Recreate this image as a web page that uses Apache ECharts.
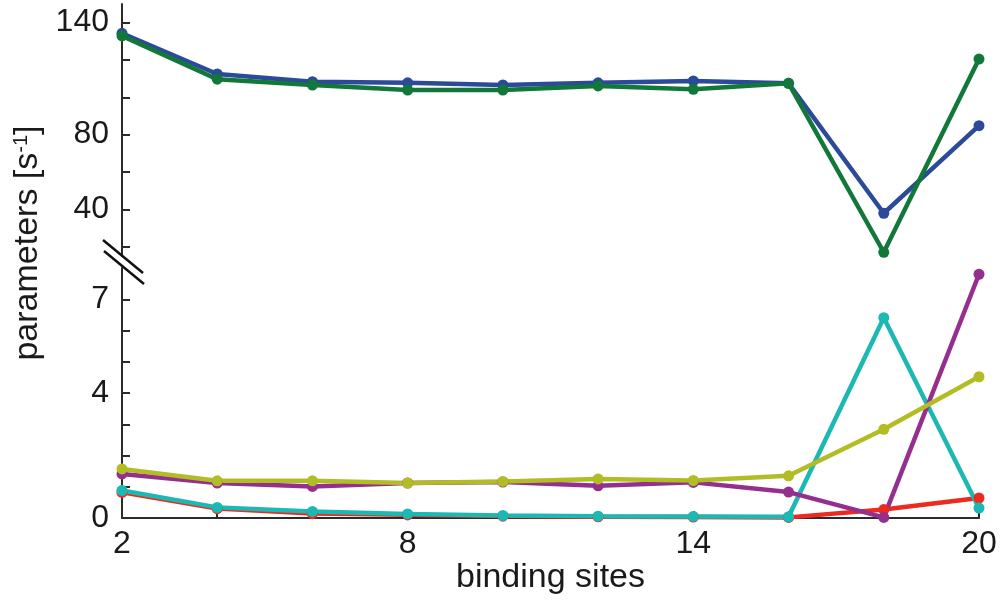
<!DOCTYPE html>
<html>
<head>
<meta charset="utf-8">
<script src="https://cdn.jsdelivr.net/npm/echarts@6/dist/echarts.min.js"></script>
<style>
  html, body { margin: 0; padding: 0; background: #fff; }
  #my_chart { width: 1004px; height: 600px; }
</style>
</head>
<body>
<div id="my_chart"></div>
<script>
// binding sites (x)
var sites = [2, 4, 6, 8, 10, 12, 14, 16, 18, 20];
var xTicks = [2, 4, 6, 8, 10, 12, 14, 16, 18, 20];
var xLabels = [2, 8, 14, 20];

// upper panel
var blueVals = [134.3, 112.5, 108.4, 107.8, 106.6, 107.8, 108.8, 107.5, 37.9, 84.8];
var greenVals = [132.9, 109.7, 106.6, 103.9, 103.9, 106.1, 104.3, 107.5, 17, 120.5];
var topTicks = [20, 40, 60, 80, 100, 120, 140];
var topLabels = [40, 80, 140];

// lower panel
var redVals = [0.82, 0.3, 0.14, 0.1, 0.06, 0.04, 0.03, 0.02, 0.27, 0.64];
var cyanVals = [0.88, 0.34, 0.21, 0.13, 0.08, 0.06, 0.05, 0.04, 6.41, 0.32];
var magentaVals = [1.41, 1.12, 1.01, 1.12, 1.15, 1.03, 1.14, 0.83, 0.02, 7.8];
var yellowVals = [1.57, 1.19, 1.19, 1.12, 1.17, 1.25, 1.2, 1.35, 2.84, 4.52];
var lowTicks = [0, 1, 2, 3, 4, 5, 6, 7];
var lowLabels = [0, 4, 7];

var font = "'Liberation Sans', Arial, sans-serif";
var axisColor = "#2b2b2b";

function pairs(vals) {
  var out = [];
  for (var i = 0; i < sites.length; i++) {
    out.push([sites[i], vals[i]]);
  }
  return out;
}

function line(name, vals, color, gridIdx) {
  return {
    name: name,
    type: "line",
    xAxisIndex: gridIdx,
    yAxisIndex: gridIdx,
    data: pairs(vals),
    symbol: "circle",
    symbolSize: 11,
    clip: false,
    animation: false,
    lineStyle: { color: color, width: 4.5 },
    itemStyle: { color: color },
  };
}

function yAxis(gridIdx, min, max, ticks, labels) {
  return {
    type: "value",
    gridIndex: gridIdx,
    min: min,
    max: max,
    splitLine: { show: false },
    axisLine: { show: true, lineStyle: { color: axisColor, width: 2 } },
    axisTick: {
      show: true,
      inside: true,
      length: 8,
      customValues: ticks,
      lineStyle: { color: axisColor, width: 2 },
    },
    axisLabel: {
      customValues: labels,
      margin: 13,
      color: "#1a1a1a",
      fontSize: 32,
      fontFamily: font,
    },
  };
}

var myChart = echarts.init(document.getElementById("my_chart"));

var option = {
  backgroundColor: "#fff",
  animation: false,
  grid: [
    { left: 122, right: 25, top: 4, height: 252 },
    { left: 122, right: 25, top: 268, height: 250 },
  ],
  xAxis: [
    {
      type: "value",
      gridIndex: 0,
      min: 2,
      max: 20,
      show: false,
    },
    {
      type: "value",
      gridIndex: 1,
      min: 2,
      max: 20,
      name: "binding sites",
      nameLocation: "middle",
      nameGap: 32,
      nameTextStyle: { color: "#1a1a1a", fontSize: 34, fontFamily: font },
      splitLine: { show: false },
      axisLine: { show: true, lineStyle: { color: axisColor, width: 2 } },
      axisTick: {
        show: true,
        inside: true,
        length: 7,
        customValues: xTicks,
        lineStyle: { color: axisColor, width: 2 },
      },
      axisLabel: {
        customValues: xLabels,
        margin: 10,
        color: "#1a1a1a",
        fontSize: 32,
        fontFamily: font,
      },
    },
  ],
  yAxis: [
    yAxis(0, 15, 150, topTicks, topLabels),
    yAxis(1, 0, 8, lowTicks, lowLabels),
  ],
  graphic: [
    // axis break marks
    {
      type: "line",
      shape: { x1: 103, y1: 240, x2: 143, y2: 273 },
      style: { stroke: "#111", lineWidth: 2.5 },
      z: 100,
    },
    {
      type: "line",
      shape: { x1: 104, y1: 251, x2: 144, y2: 284 },
      style: { stroke: "#111", lineWidth: 2.5 },
      z: 100,
    },
    {
      type: "text",
      x: 28,
      y: 243,
      rotation: Math.PI / 2,
      style: {
        text: "parameters [s{sup|-1}]",
        fill: "#1a1a1a",
        font: "34px " + font,
        align: "center",
        verticalAlign: "middle",
        rich: {
          sup: { fontSize: 20, fontFamily: font, fill: "#1a1a1a", padding: [0, 0, 14, 0] },
        },
      },
    },
  ],
  series: [
    line("blue", blueVals, "#2c4a9a", 0),
    line("green", greenVals, "#12783a", 0),
    line("red", redVals, "#ec2a1f", 1),
    line("cyan", cyanVals, "#1cb8b3", 1),
    line("magenta", magentaVals, "#952f8e", 1),
    line("yellow", yellowVals, "#b2bc25", 1),
  ],
};

myChart.setOption(option);
window.addEventListener("resize", function () {
  myChart.resize();
});
</script>
</body>
</html>
